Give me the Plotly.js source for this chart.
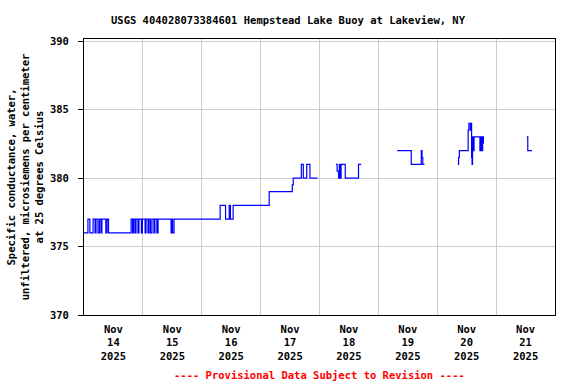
<!DOCTYPE html>
<html>
<head>
<meta charset="utf-8">
<script src="https://cdn.plot.ly/plotly-3.0.1.min.js"></script>
<style>html,body{margin:0;padding:0;background:#fff;}#chart{width:576px;height:384px;}</style>
</head>
<body>
<div id="chart"></div>
<script>
// Hours since 2025-11-14 00:00 and specific conductance values (null = data gap)
const hoursSinceStart = [
  0, 1.6, 2.4, 3.7, 4.5, 4.9, 5.7, 6.3, 6.9, 7.3, 8.9, 9.4, 10.0,
  19.2, 19.8, 20.2, 20.8, 21.2, 22.0, 22.4, 23.4, 23.8, 24.9, 25.3, 26.1, 26.5, 27.1, 27.7, 28.5, 28.9, 29.7, 30.2,
  35.5, 35.8, 36.1, 36.7,
  55.5, 57.7, 59.2, 59.7, 60.8,
  75.5, 84.9, 85.3, 88.6, 89.4, 90.8, 92.1, 95.2,
  99.0,
  102.7, 103.2, 103.8, 104.1, 104.4, 104.8, 106.5, 111.9, 113.0,
  120.0,
  127.7, 133.4, 137.5, 137.8, 138.1, 138.8,
  145.0,
  152.4, 152.7, 153.0, 156.6, 156.9, 157.5, 157.7, 158.0, 158.2, 158.4, 158.7, 159.0, 161.4, 161.8, 162.1, 162.5, 162.8,
  170.0,
  180.5, 180.9, 182.6
];
const conductance = [
  376, 377, 376, 377, 376, 377, 376, 377, 376, 377, 376, 377, 376,
  377, 376, 377, 376, 377, 376, 377, 376, 377, 376, 377, 376, 377, 376, 377, 376, 377, 376, 377,
  376, 377, 376, 377,
  378, 377, 378, 377, 378,
  379, 379.5, 380, 381, 380, 381, 380, 380,
  null,
  381, 380.5, 380, 381, 380, 381, 380, 381, 381,
  null,
  382, 381, 382, 381.5, 381, 381,
  null,
  381, 381.5, 382, 383.5, 384, 383.5, 384, 381.5, 381, 383, 382, 383, 382, 383, 382, 383, 382.5,
  null,
  383, 382, 382
];
const startMs = Date.UTC(2025, 10, 14);
const xStart = '2025-11-14';
const xEnd = '2025-11-22';
const yTicks = [370, 375, 380, 385, 390];

const xs = hoursSinceStart.map(h => startMs + h * 3600000);
const monoFont = 'DejaVu Sans Mono, monospace';

const trace = {
  x: xs, y: conductance, type: 'scatter', mode: 'lines',
  line: {color: '#0000ff', width: 1.2, shape: 'hv'},
  connectgaps: false, hoverinfo: 'skip', showlegend: false
};

const layout = {
  width: 576, height: 384,
  margin: {l: 84, r: 21, t: 39, b: 69},
  paper_bgcolor: '#ffffff', plot_bgcolor: '#ffffff',
  title: {
    text: 'USGS 404028073384601 Hempstead Lake Buoy at Lakeview, NY',
    xref: 'container', x: 0.5, xanchor: 'center',
    yref: 'container', y: 1 - 20/384, yanchor: 'middle',
    font: {family: monoFont, size: 10.5, color: '#000', weight: 'bold'}
  },
  xaxis: {
    type: 'date', range: [xStart, xEnd],
    tick0: xStart, dtick: 86400000,
    tickformat: '%b<br>%d<br>%Y', ticklabelmode: 'period',
    ticklabelstandoff: 4,
    showgrid: true, gridcolor: '#cccccc', gridwidth: 1,
    showline: true, linecolor: '#000', linewidth: 1, mirror: true,
    ticks: '', zeroline: false,
    tickfont: {family: monoFont, size: 10.5, color: '#000', weight: 'bold'}
  },
  yaxis: {
    range: [370, 390.15], tickvals: yTicks, ticktext: yTicks.map(String),
    showgrid: true, gridcolor: '#cccccc', gridwidth: 1,
    showline: true, linecolor: '#000', linewidth: 1, mirror: true,
    ticks: 'outside', ticklen: 5, tickcolor: '#000', zeroline: false,
    ticklabelstandoff: 7,
    tickfont: {family: monoFont, size: 10.5, color: '#000', weight: 'bold'},
    title: {
      text: 'Specific conductance, water,<br>unfiltered, microsiemens per centimeter<br>at 25 degrees Celsius',
      font: {family: monoFont, size: 10.5, color: '#000', weight: 'bold'},
      standoff: 4
    }
  },
  annotations: [{
    text: '---- Provisional Data Subject to Revision ----',
    xref: 'paper', x: 0.5, xanchor: 'center',
    yref: 'paper', y: -(375 - 315) / 276, yanchor: 'middle',
    showarrow: false,
    font: {family: monoFont, size: 10.5, color: '#ff0000', weight: 'bold'}
  }]
};

Plotly.newPlot('chart', [trace], layout, {displayModeBar: false, staticPlot: true});
</script>
</body>
</html>
